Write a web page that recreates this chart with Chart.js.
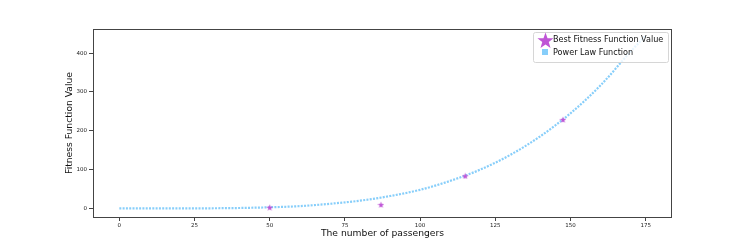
<!DOCTYPE html>
<html lang="en">
<head>
    <meta charset="UTF-8">
    <title>Fitness vs passengers</title>
    <script src="https://cdn.jsdelivr.net/npm/chart.js@4.4.0/dist/chart.umd.min.js"></script>
    <style>
        html, body { margin: 0; padding: 0; background: #fff; }
        #wrap { width: 747px; height: 249px; }
    </style>
</head>
<body>
    <div id="wrap"><canvas id="chart"></canvas></div>
    <script>
        // values
        const bestX = [50, 87, 115, 147.5];
        const bestY = [3, 10, 84, 229];
        const powerX = [0, 10, 20, 30, 40, 50, 60, 70, 80, 90, 100, 110, 120, 130, 140, 150, 160, 170, 175];
        const powerY = [0, 0, 0.1, 0.4, 1.2, 3, 6, 12, 20, 32, 48, 71, 100, 138, 186, 245, 317, 404, 445];
        const xTicks = [0, 25, 50, 75, 100, 125, 150, 175];
        const yTicks = [0, 100, 200, 300, 400];

        const purple = '#bf55d6';
        const blue = '#87cefa';
        const font = 'DejaVu Sans';

        function makeStar(size) {
            const c = document.createElement('canvas');
            c.width = size; c.height = size;
            const g = c.getContext('2d');
            const r = size / 2, ri = r * 0.4;
            g.beginPath();
            for (let i = 0; i < 10; i++) {
                const a = -Math.PI / 2 + i * Math.PI / 5;
                const rr = i % 2 ? ri : r;
                g.lineTo(r + rr * Math.cos(a), r + 0.5 + rr * Math.sin(a));
            }
            g.closePath();
            g.fillStyle = purple;
            g.fill();
            return c;
        }
        const smallStar = makeStar(7);
        const bigStar = makeStar(17);

        const frameAndText = {
            id: 'frameAndText',
            afterDraw(chart) {
                const ctx = chart.ctx;
                const a = chart.chartArea;
                ctx.save();
                ctx.strokeStyle = '#444';
                ctx.lineWidth = 1;
                ctx.strokeRect(a.left + 0.5, a.top + 0.5, a.right - a.left - 1, a.bottom - a.top);

                ctx.fillStyle = '#111';
                ctx.font = '9.2px "' + font + '"';
                ctx.textAlign = 'center';
                ctx.textBaseline = 'middle';
                ctx.fillText('The number of passengers', (a.left + a.right) / 2, 234);
                ctx.translate(70, (a.top + a.bottom) / 2);
                ctx.rotate(-Math.PI / 2);
                ctx.fillText('Fitness Function Value', 0, 0);
                ctx.restore();

                // legend box
                ctx.save();
                const lx = 533, ly = 32, lw = 135, lh = 30;
                ctx.fillStyle = 'rgba(255,255,255,0.8)';
                ctx.strokeStyle = '#d6d6d6';
                ctx.lineWidth = 1;
                ctx.beginPath();
                ctx.roundRect(lx + 0.5, ly + 0.5, lw, lh, 2);
                ctx.fill();
                ctx.stroke();
                ctx.drawImage(bigStar, 537, 32);
                ctx.fillStyle = blue;
                ctx.fillRect(542, 49, 6, 6);
                ctx.fillStyle = '#111';
                ctx.font = '8.1px "' + font + '"';
                ctx.textAlign = 'left';
                ctx.textBaseline = 'middle';
                ctx.fillText('Best Fitness Function Value', 553, 40);
                ctx.fillText('Power Law Function', 553, 52.5);
                ctx.restore();
            }
        };

        const tickFont = { family: font, size: 5.5 };

        new Chart(document.getElementById('chart'), {
            type: 'scatter',
            data: {
                datasets: [{
                    label: 'Power Law Function',
                    data: powerX.map((x, i) => ({ x: x, y: powerY[i] })),
                    showLine: true,
                    borderColor: blue,
                    borderWidth: 2.2,
                    borderDash: [2, 1.3],
                    borderCapStyle: 'butt',
                    cubicInterpolationMode: 'monotone',
                    pointRadius: 0,
                    order: 2
                }, {
                    label: 'Best Fitness Function Value',
                    data: bestX.map((x, i) => ({ x: x, y: bestY[i] })),
                    pointStyle: smallStar,
                    pointRadius: 4,
                    order: 1
                }]
            },
            options: {
                responsive: true,
                maintainAspectRatio: false,
                animation: false,
                layout: { padding: { top: 29, right: 75, left: 0, bottom: 0 } },
                plugins: {
                    legend: { display: false },
                    tooltip: { enabled: false }
                },
                scales: {
                    x: {
                        type: 'linear',
                        min: -8.75,
                        max: 183.75,
                        afterBuildTicks: s => { s.ticks = xTicks.map(v => ({ value: v })); },
                        afterFit: s => { s.height = 32; },
                        grid: { drawOnChartArea: false, tickLength: 4, color: '#444' },
                        border: { display: false },
                        ticks: { font: tickFont, color: '#222', padding: 1, maxRotation: 0 }
                    },
                    y: {
                        type: 'linear',
                        min: -22,
                        max: 462,
                        afterBuildTicks: s => { s.ticks = yTicks.map(v => ({ value: v })); },
                        afterFit: s => { s.width = 93; },
                        grid: { drawOnChartArea: false, tickLength: 4, color: '#444' },
                        border: { display: false },
                        ticks: { font: tickFont, color: '#222', padding: 2 }
                    }
                }
            },
            plugins: [frameAndText]
        });
    </script>
</body>
</html>
